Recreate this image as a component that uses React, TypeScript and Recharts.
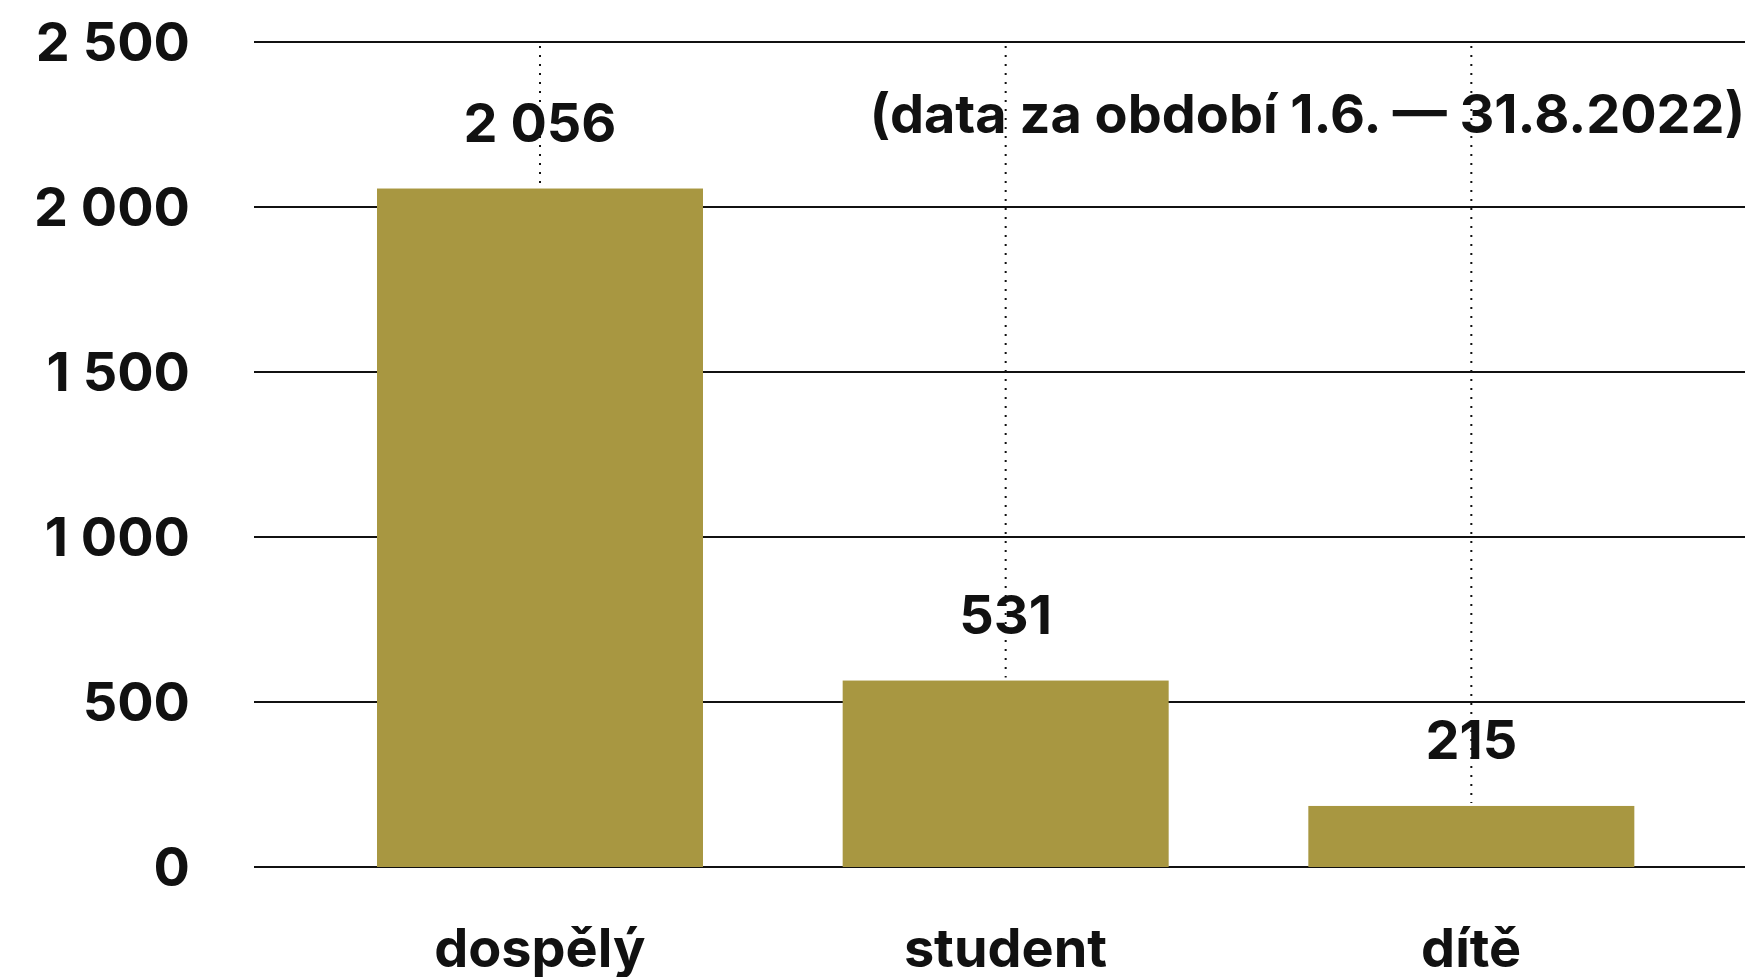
import React from 'react'
import { Bar, BarChart, CartesianGrid, LabelList, XAxis, YAxis } from 'recharts'

// ─── Data ───────────────────────────────────────────────────────────────────────
const categories = ['dospělý', 'student', 'dítě']
const barValues = [2056, 565, 185]
const valueLabels = ['2 056', '531', '215']
const yTicks = [0, 500, 1000, 1500, 2000, 2500]
const note = '(data za období 1.6. — 31.8.2022)'

const data = categories.map((name, i) => ({ name, value: barValues[i], label: valueLabels[i] }))

const FONT = 'Inter, "Liberation Sans", sans-serif'
const INK = '#111111'
const GOLD = '#A89741'
const PLOT_TOP = 42

const fmt = (v: number) => (v >= 1000 ? `${Math.floor(v / 1000)} ${String(v % 1000).padStart(3, '0')}` : String(v))

// bar with dotted guide running up to the top gridline
const GuideBar = (props: any) => {
  const { x, y, width, height, fill, background } = props
  const top = background?.y ?? PLOT_TOP
  const cx = x + width / 2
  return (
    <g>
      <line x1={cx} x2={cx} y1={top + 4} y2={y - 3} stroke={INK} strokeWidth={2} strokeDasharray="2 7" />
      <rect x={x} y={y} width={width} height={height} fill={fill} />
    </g>
  )
}

const ValueLabel = (props: any) => {
  const { x, y, width, value } = props
  return (
    <text
      x={x + width / 2}
      y={y - 66}
      textAnchor="middle"
      dominantBaseline="central"
      fontFamily={FONT}
      fontWeight={700}
      fontSize={54}
      fill={INK}
    >
      {value}
    </text>
  )
}

export default function App() {
  return (
    <div style={{ position: 'absolute', left: 0, top: 0, width: 1745, height: 977, background: '#fff' }}>
      <BarChart width={1745} height={977} data={data} margin={{ top: PLOT_TOP, right: 0, bottom: 0, left: 0 }}>
        <CartesianGrid vertical={false} stroke={INK} strokeWidth={2} />
        <XAxis
          dataKey="name"
          axisLine={false}
          tickLine={false}
          tickSize={0}
          tickMargin={62}
          height={110}
          padding={{ left: 53, right: 41 }}
          tick={{ fontSize: 54, fontWeight: 700, fill: INK, fontFamily: FONT }}
        />
        <YAxis
          domain={[0, 2500]}
          ticks={yTicks}
          interval={0}
          width={254}
          axisLine={false}
          tickLine={false}
          tickSize={0}
          tickMargin={64}
          tickFormatter={fmt}
          tick={{ fontSize: 54, fontWeight: 700, fill: INK, fontFamily: FONT }}
        />
        <Bar dataKey="value" fill={GOLD} barSize={326} shape={GuideBar} isAnimationActive={false}>
          <LabelList dataKey="label" content={ValueLabel} />
        </Bar>
      </BarChart>
      <div
        style={{
          position: 'absolute',
          right: 0,
          top: 114,
          transform: 'translateY(-50%)',
          fontFamily: FONT,
          fontWeight: 700,
          fontSize: 54,
          color: INK,
          whiteSpace: 'nowrap',
          lineHeight: 1,
        }}
      >
        {note}
      </div>
    </div>
  )
}
